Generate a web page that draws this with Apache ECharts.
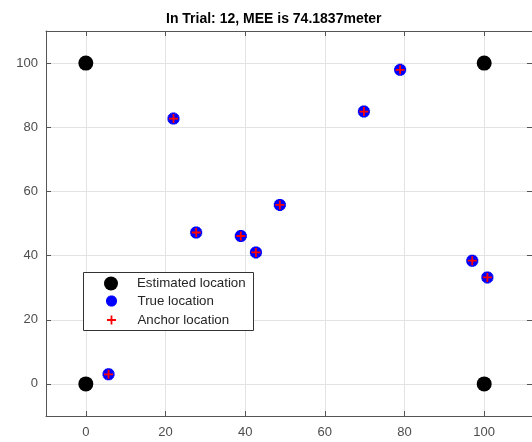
<!DOCTYPE html>
<html>
<head>
<meta charset="utf-8">
<script src="https://cdn.jsdelivr.net/npm/echarts@6/dist/echarts.min.js"></script>
<style>html,body{margin:0;padding:0;background:#fff}#c{width:532px;height:442px}</style>
</head>
<body>
<div id="c"></div>
<script>
// ---- data ----
const titleText = 'In Trial: 12, MEE is 74.1837meter';
const seriesNames = ['Estimated location', 'True location', 'Anchor location'];
const estX = [0, 0, 100, 100];
const estY = [0, 100, 0, 100];
const trueX = [5.7, 22, 27.7, 38.9, 42.7, 48.7, 69.8, 78.9, 97, 100.8];
const trueY = [3, 82.7, 47.2, 46.1, 41, 55.8, 84.9, 97.9, 38.4, 33.2];
const anchorX = trueX.slice();
const anchorY = trueY.slice();
const xTicks = [0, 20, 40, 60, 80, 100];
const yTicks = [0, 20, 40, 60, 80, 100];

// ---- styling helpers ----
function asteriskPath() {
  const L = 5, W = 1.7, off = 6;
  let d = '';
  [0, 45, 90, 135].forEach(a => {
    const r = a * Math.PI / 180, c = Math.cos(r), s = Math.sin(r);
    const pts = [[-L, -W], [L, -W], [L, W], [-L, W]].map(p => [
      (p[0] * c - p[1] * s + off).toFixed(3), (p[0] * s + p[1] * c + off).toFixed(3)]);
    d += 'M' + pts[0].join(',') + 'L' + pts[1].join(',') + 'L' + pts[2].join(',') + 'L' + pts[3].join(',') + 'Z';
  });
  return 'path://' + d;
}
const plusPath = 'path://M4,0H6V4H10V6H6V10H4V6H0V4H4Z';
const star = asteriskPath();
const zip = (a, b) => a.map((v, i) => [v, b[i]]);

const axisCol = '#555';
const labCol = '#4d4d4d';
const gridCol = '#e3e3e3';

const chart = echarts.init(document.getElementById('c'), null, { renderer: 'canvas' });

function xAx(pos, main) {
  return {
    type: 'value', min: -10, max: 112, position: pos,
    axisLine: { show: true, onZero: false, lineStyle: { color: axisCol, width: 1 } },
    axisTick: { show: true, inside: true, length: 5, customValues: xTicks, lineStyle: { color: axisCol } },
    axisLabel: { show: main, customValues: xTicks, color: labCol, fontSize: 13, margin: 10, fontFamily: 'Liberation Sans' },
    splitLine: { show: main, lineStyle: { color: gridCol, width: 1 } }
  };
}
function yAx(pos, main) {
  return {
    type: 'value', min: -10, max: 110, position: pos,
    axisLine: { show: true, onZero: false, lineStyle: { color: axisCol, width: 1 } },
    axisTick: { show: true, inside: true, length: 5, customValues: yTicks, lineStyle: { color: axisCol } },
    axisLabel: { show: main, customValues: yTicks, color: labCol, fontSize: 13, margin: 8, fontFamily: 'Liberation Sans' },
    splitLine: { show: main, lineStyle: { color: gridCol, width: 1 } }
  };
}

const legendBase = {
  orient: 'vertical', padding: 0, itemWidth: 42,
  textStyle: { color: '#262626', fontSize: 13.3, fontFamily: 'Liberation Sans' },
  backgroundColor: 'transparent', selectedMode: false
};

chart.setOption({
  animation: false,
  backgroundColor: '#fff',
  title: {
    text: titleText, left: 161, top: 7,
    textStyle: { fontSize: 14, fontWeight: 'bold', color: '#000', fontFamily: 'Liberation Sans' }
  },
  grid: { left: 46, top: 31, width: 488, height: 385, containLabel: false },
  xAxis: [xAx('bottom', true), xAx('top', false)],
  yAxis: [yAx('left', true), yAx('right', false)],
  graphic: [{
    type: 'rect', z: 3, left: 83, top: 272,
    shape: { width: 170, height: 58 },
    style: { fill: '#fff', stroke: '#333', lineWidth: 1 }
  }],
  legend: [
    Object.assign({}, legendBase, { left: 104, top: 276.5, itemHeight: 14, data: [{ name: seriesNames[0], icon: 'circle' }] }),
    Object.assign({}, legendBase, { left: 106, top: 294.5, itemHeight: 11, data: [{ name: seriesNames[1], icon: star }] }),
    Object.assign({}, legendBase, { left: 107, top: 313.5, itemHeight: 9, data: [{ name: seriesNames[2], icon: plusPath }] })
  ],
  series: [
    { name: seriesNames[0], type: 'scatter', data: zip(estX, estY), symbol: 'circle', symbolSize: 15,
      itemStyle: { color: '#000', opacity: 1 }, z: 2 },
    { name: seriesNames[1], type: 'scatter', data: zip(trueX, trueY), symbol: star, symbolSize: 12,
      itemStyle: { color: '#0000ff', opacity: 1 }, z: 3 },
    { name: seriesNames[2], type: 'scatter', data: zip(anchorX, anchorY), symbol: plusPath, symbolSize: 9,
      itemStyle: { color: '#ff0000', opacity: 1 }, z: 4 }
  ]
});
</script>
</body>
</html>
